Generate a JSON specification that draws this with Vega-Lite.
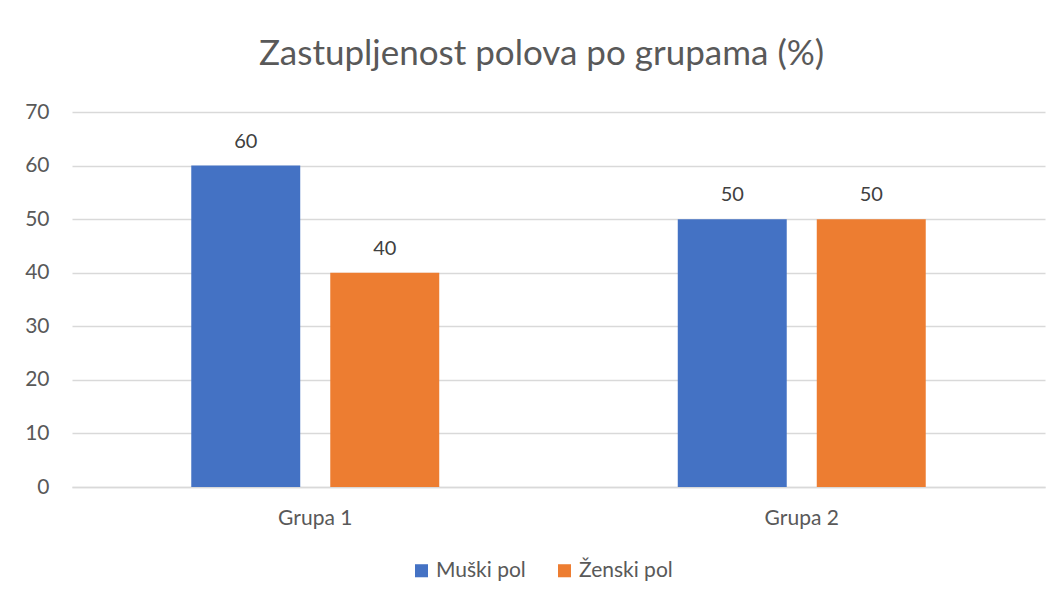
{
  "$schema": "https://vega.github.io/schema/vega-lite/v6.json",
  "width": 973,
  "height": 375,
  "autosize": {"type": "none"},
  "padding": {"left": 72, "top": 112, "right": 14, "bottom": 114},
  "background": "white",
  "title": {
    "text": "Zastupljenost polova po grupama (%)",
    "font": "Lato",
    "fontSize": 35,
    "fontWeight": "normal",
    "color": "#595959",
    "anchor": "middle",
    "dx": -17,
    "offset": 29
  },
  "data": {
    "values": [
      {"grupa": "Grupa 1", "pol": "Muški pol", "procenat": 60},
      {"grupa": "Grupa 1", "pol": "Ženski pol", "procenat": 40},
      {"grupa": "Grupa 2", "pol": "Muški pol", "procenat": 50},
      {"grupa": "Grupa 2", "pol": "Ženski pol", "procenat": 50}
    ]
  },
  "encoding": {
    "x": {
      "field": "grupa",
      "type": "nominal",
      "title": null,
      "scale": {"paddingInner": 0, "paddingOuter": 0},
      "axis": {
        "labelAngle": 0,
        "labelFont": "Lato",
        "labelFontSize": 21,
        "labelColor": "#595959",
        "labelPadding": 20,
        "ticks": false,
        "domainColor": "#d9d9d9",
        "domainWidth": 1.5
      }
    },
    "xOffset": {
      "field": "pol",
      "type": "nominal",
      "scale": {"paddingInner": 0.216, "paddingOuter": 0.858}
    },
    "y": {
      "field": "procenat",
      "type": "quantitative",
      "title": null,
      "scale": {"domain": [0, 70]},
      "axis": {
        "values": [0, 10, 20, 30, 40, 50, 60, 70],
        "labelFont": "Lato",
        "labelFontSize": 21,
        "labelColor": "#595959",
        "labelPadding": 23,
        "ticks": false,
        "domain": false,
        "gridColor": "#d9d9d9",
        "gridWidth": 1.5
      }
    }
  },
  "layer": [
    {
      "mark": {"type": "bar"},
      "encoding": {
        "color": {
          "field": "pol",
          "type": "nominal",
          "title": null,
          "scale": {"domain": ["Muški pol", "Ženski pol"], "range": ["#4472C4", "#ED7D31"]},
          "legend": {
            "orient": "none",
            "legendX": 339,
            "legendY": 448,
            "direction": "horizontal",
            "symbolType": "square",
            "symbolSize": 170,
            "symbolStrokeWidth": 0,
            "labelFont": "Lato",
            "labelFontSize": 21,
            "labelColor": "#595959",
            "columnPadding": 28
          }
        }
      }
    },
    {
      "mark": {"type": "text", "baseline": "bottom", "dy": -14, "font": "Lato", "fontSize": 20, "color": "#404040"},
      "encoding": {
        "text": {"field": "procenat", "type": "quantitative"}
      }
    }
  ],
  "config": {
    "view": {"stroke": null}
  }
}
